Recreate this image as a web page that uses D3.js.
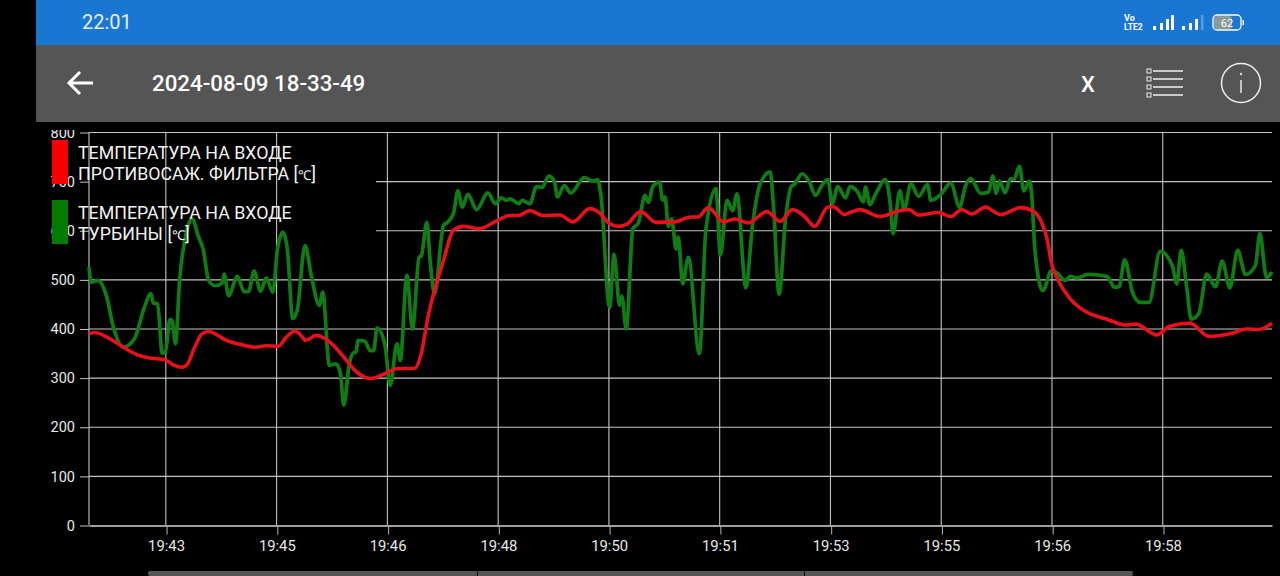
<!DOCTYPE html>
<html><head><meta charset="utf-8">
<script src="https://cdn.jsdelivr.net/npm/d3@7"></script>
<style>html,body{margin:0;padding:0;background:#000;overflow:hidden}svg{display:block}text{font-family:Roboto,sans-serif}</style>
</head><body><svg id="c" width="1280" height="576"></svg>
<script>
const titleText="2024-08-09 18-33-49", clockText="22:01", batteryText="62";
const legendRed=["ТЕМПЕРАТУРА НА ВХОДЕ","ПРОТИВОСАЖ. ФИЛЬТРА [℃]"];
const legendGreen=["ТЕМПЕРАТУРА НА ВХОДЕ","ТУРБИНЫ [℃]"];
const yTicks=[0,100,200,300,400,500,600,700,800];
const xTickSeconds=[70,170,270,370,470,570,670,770,870,970];
const redSeconds=[0,5,19,31,43,55,69,76,84,88,96,102,108,114,124,136,150,160,171,178,186,190,196,205,211,221,230,242,254,266,278,294,300,306,311,320,329,338,352,368,380,388,398,410,425,437,452,460,469,478,486,498,512,529,543,550,559,573,583,595,612,624,635,646,655,667,672,682,687,696,714,732,740,749,767,778,788,797,809,823,841,853,860,865,869,875,886,901,919,936,945,964,975,994,1011,1033,1045,1056,1068];
const redValues=[390,393,380,363,348,341,337,327,322,326,366,390,395,390,377,369,363,366,365,383,396,390,377,387,383,366,343,312,299,308,319,320,350,424,471,539,601,609,604,620,631,631,641,631,632,618,645,638,616,609,614,639,617,618,628,628,647,618,624,616,639,619,643,629,609,648,649,633,637,643,629,641,643,632,637,629,643,634,648,633,647,639,617,583,533,499,461,434,420,408,410,388,405,412,385,392,400,399,412];
const greenSeconds=[0,2,8,16,22,31,41,50,56,58,62,66,69,73,75,78,82,87,93,99,103,108,114,120,122,126,134,140,144,149,155,160,166,170,175,179,184,188,195,201,208,211,217,223,227,230,235,239,241,243,249,254,257,260,267,272,278,281,287,292,298,300,305,308,312,320,323,329,333,337,342,350,360,367,372,377,380,388,391,398,404,409,415,420,423,429,435,447,455,459,462,470,474,479,481,485,491,496,502,505,509,515,518,520,523,526,530,532,536,541,551,557,566,570,576,581,585,593,599,606,615,618,623,629,634,637,644,650,656,661,667,671,676,683,687,694,699,701,705,710,719,723,726,732,736,742,749,757,760,769,778,786,791,796,805,812,816,819,822,827,832,835,840,844,849,851,854,861,869,875,881,886,892,902,919,926,930,935,942,949,957,967,978,982,986,991,995,1002,1009,1017,1023,1030,1037,1044,1053,1057,1063,1068];
const greenValues=[526,495,499,465,404,363,380,444,472,453,451,351,353,419,417,370,505,587,624,587,563,499,488,493,512,468,507,476,476,518,477,504,475,560,597,563,421,438,570,505,448,475,326,329,309,245,329,352,353,377,375,356,356,402,370,285,370,336,509,400,546,549,617,539,471,611,616,635,681,648,674,643,677,655,667,662,665,655,662,655,690,688,711,701,669,692,677,708,701,704,676,444,552,448,467,400,604,616,672,658,690,699,662,669,609,624,563,587,492,546,350,604,686,550,662,641,675,484,611,696,720,648,471,628,690,695,716,701,672,690,704,655,690,667,690,679,659,689,653,674,704,662,594,681,643,696,670,694,662,674,697,648,689,706,676,679,711,676,701,677,706,704,731,681,701,676,560,478,519,512,499,507,504,511,507,485,486,541,475,454,454,558,529,492,560,485,420,432,512,486,538,484,560,511,529,594,505,516];

const svg=d3.select("#c");
const t0=new Date(2024,7,9,19,42,10);
const at=s=>new Date(t0.getTime()+s*1000);
const x=d3.scaleTime().domain([at(0),at(1068)]).range([89,1272]);
const y=d3.scaleLinear().domain([0,800]).range([525.5,132.5]);
const gridC="#c4c4c4";

svg.append("rect").attr("width",1280).attr("height",576).attr("fill","#000");

// horizontal grid + y axis
const gy=svg.append("g").attr("transform","translate(89,0)").call(d3.axisLeft(y).tickValues(yTicks).tickFormat(d3.format("d")).tickSize(9));
gy.select(".domain").remove();
gy.selectAll("line").attr("stroke",gridC).attr("stroke-width",1);
gy.selectAll("text").attr("fill","#e8e8e8").attr("font-size",14.5).attr("x",-14).style("font-family","Roboto");
svg.selectAll("g.hg").data(yTicks.slice(1)).join("line").attr("x1",89).attr("x2",1272)
  .attr("y1",d=>y(d)).attr("y2",d=>y(d)).attr("stroke",gridC).attr("stroke-width",1.1);
// legend background hides the 600/700 rules
svg.append("rect").attr("x",89).attr("y",170).attr("width",287).attr("height",72).attr("fill","#000");

// vertical grid + x axis
const tickDates=xTickSeconds.map(at);
const gx=svg.append("g").attr("transform","translate(0,525.5)").call(d3.axisBottom(x).tickValues(tickDates).tickFormat(d3.timeFormat("%H:%M")).tickSize(9).tickSizeOuter(0));
gx.select(".domain").attr("stroke","#d4d4d4").attr("stroke-width",1.6);
gx.selectAll("line").attr("stroke","#a8a8a8").attr("stroke-width",1.1);
gx.selectAll("text").attr("fill","#e8e8e8").attr("font-size",14.8).attr("y",15).attr("dy","0.71em").attr("dx",-0.5).style("font-family","Roboto");
svg.selectAll("line.vg").data(tickDates).join("line").attr("x1",d=>x(d)-0.7).attr("x2",d=>x(d)-0.7)
  .attr("y1",132).attr("y2",525).attr("stroke",gridC).attr("stroke-width",1.1);
svg.append("line").attr("x1",89).attr("x2",89).attr("y1",132).attr("y2",525).attr("stroke",gridC).attr("stroke-width",1.1);

// series
const line=d3.line().x(d=>x(at(d[0]))).y(d=>y(d[1])).curve(d3.curveMonotoneX);
const pts=(a,b)=>a.map((s,i)=>[s,b[i]]);
svg.append("path").attr("d",line(pts(greenSeconds,greenValues))).attr("fill","none").attr("stroke","#0f7d14").attr("stroke-width",3.7).attr("stroke-linejoin","round");
svg.append("path").attr("d",line(pts(redSeconds,redValues))).attr("fill","none").attr("stroke","#e8101a").attr("stroke-width",3.6).attr("stroke-linejoin","round");

// legend
[[legendRed,140,"#f80000"],[legendGreen,200,"#047c04"]].forEach(([lines,top,c])=>{
  svg.append("rect").attr("x",52).attr("y",top).attr("width",16).attr("height",44).attr("fill",c);
  lines.forEach((s,i)=>{
    const tx=svg.append("text").attr("x",78).attr("y",top+19+i*21).attr("fill","#f2f2f2").attr("font-size",17.8);
    const parts=s.split("℃");
    tx.append("tspan").text(parts[0]);
    if(parts.length>1){ tx.append("tspan").attr("font-size",13.5).text("℃"); tx.append("tspan").text(parts[1]); }
  });
});

// header bars
svg.append("rect").attr("x",36).attr("y",0).attr("width",1244).attr("height",45).attr("fill","#1976d2");
svg.append("rect").attr("x",36).attr("y",45).attr("width",1244).attr("height",77).attr("fill","#555555");
svg.append("rect").attr("x",0).attr("y",122).attr("width",1280).attr("height",8).attr("fill","#000");
svg.append("text").attr("x",82).attr("y",29).attr("fill","#e6eef8").attr("font-size",20).text(clockText);
svg.append("text").attr("x",152).attr("y",91).attr("fill","#fff").attr("font-size",22.3).attr("font-weight",500).text(titleText);
svg.append("path").attr("d","M93 83H70M80 72L69 83L80 94").attr("fill","none").attr("stroke","#fff").attr("stroke-width",3);
svg.append("text").attr("x",1088).attr("y",92).attr("text-anchor","middle").attr("fill","#fff").attr("font-size",22).attr("font-weight",500).text("X");
[71,79,87,95].forEach(v=>{
  svg.append("rect").attr("x",1147).attr("y",v-2).attr("width",4).attr("height",4).attr("fill","none").attr("stroke","#eee").attr("stroke-width",1);
  svg.append("line").attr("x1",1153).attr("x2",1183).attr("y1",v).attr("y2",v).attr("stroke","#e8e8e8").attr("stroke-width",1.6);
});
svg.append("circle").attr("cx",1241).attr("cy",83).attr("r",19.5).attr("fill","none").attr("stroke","#eee").attr("stroke-width",1.5);
svg.append("line").attr("x1",1241).attr("x2",1241).attr("y1",80).attr("y2",93).attr("stroke","#ddd").attr("stroke-width",1.6);
svg.append("circle").attr("cx",1241).attr("cy",74).attr("r",1.2).attr("fill","#ddd");

// status icons
svg.append("text").attr("x",1124).attr("y",21).attr("fill","#fff").attr("font-size",9).attr("font-weight",700).text("Vo");
svg.append("text").attr("x",1124).attr("y",30).attr("fill","#fff").attr("font-size",8.5).attr("font-weight",700).text("LTE2");
[[1153,4],[1160,7],[1166,11],[1171,15],[1182,4],[1189,7],[1195,11]].forEach(([px,h])=>svg.append("rect").attr("x",px).attr("y",30-h).attr("width",3).attr("height",h).attr("fill","#fff"));
svg.append("rect").attr("x",1201).attr("y",15).attr("width",2.5).attr("height",15).attr("fill","#5a9be0");
svg.append("rect").attr("x",1214).attr("y",16).attr("width",18).attr("height",13).attr("rx",3).attr("fill","#8a9a9a");
svg.append("rect").attr("x",1213).attr("y",15).attr("width",28).attr("height",15).attr("rx",4).attr("fill","none").attr("stroke","#fff").attr("stroke-width",1.3);
svg.append("rect").attr("x",1242.5).attr("y",20).attr("width",1.5).attr("height",5).attr("fill","#fff");
svg.append("text").attr("x",1227).attr("y",27).attr("text-anchor","middle").attr("fill","#fff").attr("font-size",11).text(batteryText);

// scrollbar
svg.append("rect").attr("x",148).attr("y",571).attr("width",985).attr("height",5).attr("rx",2).attr("fill","#555");
[477,804].forEach(v=>svg.append("rect").attr("x",v).attr("y",571).attr("width",1).attr("height",5).attr("fill","#111"));
</script></body></html>
